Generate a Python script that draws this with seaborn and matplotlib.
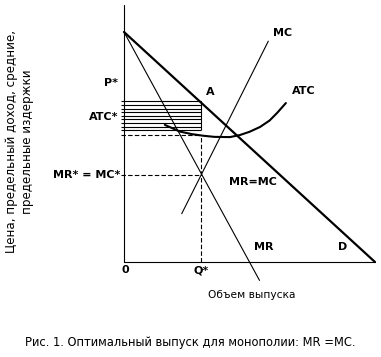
import matplotlib
matplotlib.use("Agg")
import matplotlib.pyplot as plt
import seaborn as sns
import numpy as np
import pandas as pd

# кривые (объем Q, цена P)
q_d = [0, 100]
p_d = [100, 0]
q_mr = [0, 54]
p_mr = [100, -8]
q_mc = [23, 57.5]
p_mc = [21, 96]
q_atc = [16.3, 22.3, 27, 31.5, 36, 42.2, 46.2, 50, 54.2, 58, 61, 64.5]
p_atc = [59.6, 56.7, 55.6, 54.9, 54.4, 54.3, 55.2, 56.6, 58.7, 61.5, 64.8, 69.1]

q_star = 30.7
atc_star = 55.2
mr_star = 37.8
hatch_levels = [70, 68.3, 66.7, 65.2, 63.6, 62, 60.4, 58.8, 57.4]

sns.set_style("white")
plt.rcParams['font.family'] = ['DejaVu Sans']
plt.rcParams['text.color'] = 'black'

fig = plt.figure(figsize=(3.81, 3.57), dpi=100)
ax = fig.add_axes([0, 0, 1, 1])
ax.set_xlim(-49.4, 102.4)
ax.set_ylim(-41.3, 113.9)
ax.axis('off')

# оси
ax.plot([0, 0], [0, 111.7], color='black', lw=0.8)
ax.plot([0, 100], [0, 0], color='black', lw=0.8)

df_d = pd.DataFrame({'Q': q_d, 'P': p_d})
df_mr = pd.DataFrame({'Q': q_mr, 'P': p_mr})
df_mc = pd.DataFrame({'Q': q_mc, 'P': p_mc})
df_atc = pd.DataFrame({'Q': q_atc, 'P': p_atc})

sns.lineplot(data=df_d, x='Q', y='P', sort=False, estimator=None, color='black', lw=1.6, ax=ax)
sns.lineplot(data=df_mr, x='Q', y='P', sort=False, estimator=None, color='black', lw=0.8, ax=ax)
sns.lineplot(data=df_mc, x='Q', y='P', sort=False, estimator=None, color='black', lw=0.8, ax=ax)
sns.lineplot(data=df_atc, x='Q', y='P', sort=False, estimator=None, color='black', lw=1.5, ax=ax)

# штриховка прибыли
ax.hlines(hatch_levels, -1.2, q_star, color='black', lw=0.8)
ax.vlines(q_star, min(hatch_levels), max(hatch_levels), color='black', lw=0.8)

# пунктирные линии
ax.hlines([atc_star, mr_star], -1.2, q_star, color='black', lw=0.8, linestyles=(0, (4, 2)))
ax.vlines(q_star, 0, atc_star, color='black', lw=0.8, linestyles=(0, (4, 2)))

lab = dict(fontsize=8, fontweight='bold', family='DejaVu Sans', color='black')
ax.text(-2.4, 77.8, 'P*', ha='right', va='center', **lab)
ax.text(-2.4, 63, 'ATC*', ha='right', va='center', **lab)
ax.text(-1.6, 37.8, 'MR* = MC*', ha='right', va='center', **lab)
ax.text(34.3, 73.9, 'A', ha='center', va='center', **lab)
ax.text(63.3, 99.6, 'MC', ha='center', va='center', **lab)
ax.text(71.7, 74.3, 'ATC', ha='center', va='center', **lab)
ax.text(51.4, 34.8, 'MR=MC', ha='center', va='center', **lab)
ax.text(55.8, 6.5, 'MR', ha='center', va='center', **lab)
ax.text(87.3, 6.5, 'D', ha='center', va='center', **lab)
ax.text(0.4, -3.5, '0', ha='center', va='center', **lab)
ax.text(30.7, -3.5, 'Q*', ha='center', va='center', **lab)

ax.text(51, -14.3, 'Объем выпуска', ha='center', va='center', fontsize=7.7, color='black')
ax.text(-41.6, 52.2, 'Цена, предельный доход, средние,\nпредельные издержки',
        rotation=90, ha='center', va='center', multialignment='center', fontsize=8.6,
        linespacing=1.35, color='black')
ax.text(26.3, -35.2, 'Рис. 1. Оптимальный выпуск для монополии: MR =MC.',
        ha='center', va='center', fontsize=8.3, color='black')

fig.savefig('out.png', dpi=100)
